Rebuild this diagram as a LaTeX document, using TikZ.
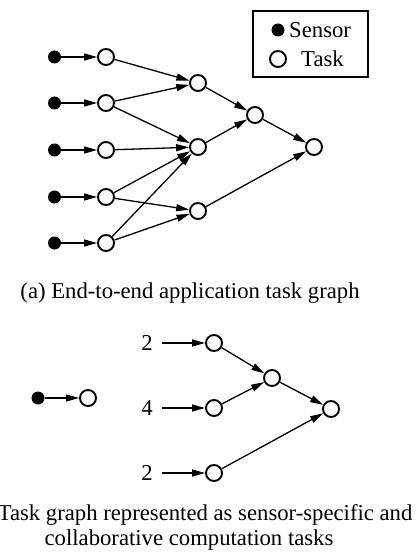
\documentclass[tikz,border=0pt]{standalone}
\usepackage{fontspec}
\setmainfont{Liberation Serif}
\usetikzlibrary{arrows.meta}
\begin{document}
\begin{tikzpicture}[x=1pt,y=-1pt,
  task/.style={circle,draw,line width=1.9pt,minimum size=16pt,inner sep=0pt,fill=white},
  sensor/.style={circle,fill=black,minimum size=13pt,inner sep=0pt},
  edge/.style={line width=1.3pt,-{Triangle[length=13pt,width=7pt]}},
  lbl/.style={font=\fontsize{22.7}{25}\selectfont,inner sep=0pt}]
\useasboundingbox (0,0) rectangle (419,556);
% top graph
\foreach \i/\y in {1/57,2/103,3/150,4/197,5/243}{
  \node[sensor] (s\i) at (54.5,\y) {};
  \node[task] (t\i) at (106,\y) {};
  \draw[edge] (s\i) -- (t\i);
}
\node[task] (a) at (198,83) {};
\node[task] (b) at (198,147) {};
\node[task] (c) at (198,211) {};
\node[task] (d) at (255,115) {};
\node[task] (e) at (314,147) {};
\draw[edge] (t1) -- (a);
\draw[edge] (t2) -- (a);
\draw[edge] (t2) -- (b);
\draw[edge] (t3) -- (b);
\draw[edge] (t4) -- (b);
\draw[edge] (t4) -- (c);
\draw[edge] (t5) -- (b);
\draw[edge] (t5) -- (c);
\draw[edge] (a) -- (d);
\draw[edge] (b) -- (d);
\draw[edge] (d) -- (e);
\draw[edge] (c) -- (e);
% legend
\node[draw,line width=1.8pt,minimum width=115pt,minimum height=66pt,inner sep=0pt] (legend) at (310.5,44) {};
\node[sensor] (ls) at (278,30) {};
\node[task] (lt) at (278,59) {};
\node[lbl,anchor=west] (lst) at (289,30) {Sensor};
\node[lbl,anchor=west] (ltt) at (301,59) {Task};
% caption a
\node[lbl] (capa) at (190,293) {(a) End-to-end application task graph};
% bottom graph
\node[sensor] (bs) at (38,398) {};
\node[task] (bt) at (88,398) {};
\draw[edge] (bs) -- (bt);
\node[lbl] (n1) at (147,343) {2};
\node[lbl] (n2) at (147,408) {4};
\node[lbl] (n3) at (147,473) {2};
\node[task] (p1) at (214,343) {};
\node[task] (p2) at (214,408) {};
\node[task] (p3) at (214,473) {};
\node[task] (q) at (272,378) {};
\node[task] (r) at (331,409) {};
\draw[edge] ([xshift=9pt]n1.east) -- (p1);
\draw[edge] ([xshift=9pt]n2.east) -- (p2);
\draw[edge] ([xshift=9pt]n3.east) -- (p3);
\draw[edge] (p1) -- (q);
\draw[edge] (p2) -- (q);
\draw[edge] (q) -- (r);
\draw[edge] (p3) -- (r);
% caption b
\node[lbl,align=center] (capb) at (189,527) {(b) Task graph represented as sensor-specific and\\collaborative computation tasks};
\end{tikzpicture}
\end{document}
